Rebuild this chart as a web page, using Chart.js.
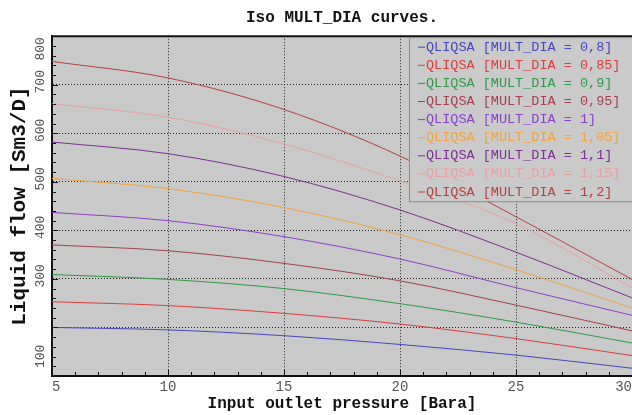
<!DOCTYPE html>
<html>
<head>
<meta charset="utf-8">
<script src="https://cdn.jsdelivr.net/npm/chart.js@4.4.0/dist/chart.umd.min.js"></script>
<style>
  html, body { margin: 0; padding: 0; background: #fff; }
</style>
</head>
<body>
<canvas id="isoChart" width="632" height="415"></canvas>
<script>
const pressure = [5, 10, 15, 20, 25, 30];
const multDia = ['0,8', '0,85', '0,9', '0,95', '1', '1,05', '1,1', '1,15', '1,2'];
const q080 = [200, 195, 183, 165, 143, 116];
const q085 = [253, 245, 229, 207, 177, 142];
const q090 = [309, 299, 280, 249, 211, 168];
const q095 = [370, 358, 332, 296, 246, 193];
const q100 = [437, 420, 387, 341, 282, 225];
const q105 = [507, 486, 447, 391, 319, 240];
const q110 = [582, 558, 511, 442, 355, 261];
const q115 = [661, 633, 578, 502, 414, 282];
const q120 = [748, 714, 649, 553, 428, 299];
const colors = ['#4646be', '#dc3c3c', '#2f9a46', '#a3404e', '#8b3fc8', '#f2a33a', '#7b2f8e', '#e9a0a3', '#b4403f'];
const yTickLabels = [100, 300, 400, 500, 600, 700, 800];

const series = [q080, q085, q090, q095, q100, q105, q110, q115, q120];
const mono = "'Courier New', 'Liberation Mono', monospace";

const datasets = series.map((vals, i) => ({
  label: 'QLIQSA [MULT_DIA = ' + multDia[i] + ']',
  data: pressure.map((p, j) => ({ x: p, y: vals[j] })),
  borderColor: colors[i],
  borderWidth: 1,
  pointRadius: 0,
  fill: false,
  cubicInterpolationMode: 'monotone'
}));

// grey plot area, inner ticks, rotated y labels, top frame line and the legend box
const plotDecor = {
  id: 'plotDecor',
  beforeDraw(chart) {
    const { ctx, chartArea: a } = chart;
    ctx.save();
    ctx.fillStyle = '#c9c9c9';
    ctx.fillRect(a.left, a.top, a.right - a.left, a.bottom - a.top);
    ctx.restore();
  },
  afterDraw(chart) {
    const { ctx, chartArea: a, scales } = chart;
    ctx.save();
    ctx.strokeStyle = '#111';
    ctx.lineWidth = 1;
    ctx.beginPath();
    for (let v = 5; v <= 30; v++) {
      const px = Math.round(scales.x.getPixelForValue(v)) + 0.5;
      const len = v % 5 === 0 ? 6 : 4;
      ctx.moveTo(px, a.bottom);
      ctx.lineTo(px, a.bottom - len);
    }
    for (let v = 100; v <= 800; v += 20) {
      const py = Math.round(scales.y.getPixelForValue(v)) + 0.5;
      const len = v % 100 === 0 ? 6 : 4;
      ctx.moveTo(a.left, py);
      ctx.lineTo(a.left + len, py);
    }
    ctx.stroke();
    ctx.lineWidth = 2;
    ctx.beginPath();
    ctx.moveTo(a.left, a.top);
    ctx.lineTo(a.right, a.top);
    ctx.stroke();

    // y tick labels, read bottom to top
    ctx.font = '13px ' + mono;
    ctx.fillStyle = '#555';
    ctx.textAlign = 'center';
    ctx.textBaseline = 'middle';
    yTickLabels.forEach(v => {
      const txt = String(v);
      const half = ctx.measureText(txt).width / 2;
      let py = scales.y.getPixelForValue(v) - 3;
      py = Math.max(a.top + half + 1, Math.min(a.bottom - half - 8, py));
      ctx.save();
      ctx.translate(a.left - 11, py);
      ctx.rotate(-Math.PI / 2);
      ctx.fillText(txt, 0, 0);
      ctx.restore();
    });
    ctx.textAlign = 'left';

    // legend
    const bx = a.right - 223, by = a.top + 1, bw = 223, bh = 164;
    ctx.fillStyle = '#cacaca';
    ctx.fillRect(bx, by, bw, bh);
    ctx.strokeStyle = '#8c8c8c';
    ctx.lineWidth = 1;
    ctx.strokeRect(bx + 0.5, by + 0.5, bw, bh);
    ctx.font = '13.5px ' + mono;
    chart.data.datasets.forEach((ds, i) => {
      const ty = by + 10 + i * 18.1;
      ctx.strokeStyle = ds.borderColor;
      ctx.beginPath();
      ctx.moveTo(bx + 9, ty);
      ctx.lineTo(bx + 16, ty);
      ctx.stroke();
      ctx.fillStyle = ds.borderColor;
      ctx.fillText(ds.label, bx + 17, ty);
    });
    ctx.restore();
  }
};

const ctx = document.getElementById('isoChart').getContext('2d');
const chart = new Chart(ctx, {
  type: 'line',
  data: { datasets: datasets },
  options: {
    responsive: false,
    animation: false,
    layout: { padding: 0 },
    plugins: {
      legend: { display: false },
      tooltip: { enabled: false },
      title: {
        display: true,
        text: 'Iso MULT_DIA curves.',
        fullSize: false,
        color: '#111',
        font: { family: mono, size: 16, weight: 'bold' },
        padding: { top: 8, bottom: 9 }
      }
    },
    scales: {
      x: {
        type: 'linear',
        min: 5,
        max: 30,
        afterFit: s => { s.height = 39; s.paddingLeft = 0; s.paddingRight = 0; },
        ticks: {
          stepSize: 5,
          align: 'inner',
          padding: 3,
          color: '#555',
          font: { family: mono, size: 14 }
        },
        grid: {
          drawTicks: false,
          color: c => (c.tick && (c.tick.value === 5 || c.tick.value === 30)) ? 'rgba(0,0,0,0)' : '#222'
        },
        border: { display: true, color: '#111', width: 2, dash: [1, 2] },
        title: {
          display: true,
          text: 'Input outlet pressure [Bara]',
          color: '#111',
          font: { family: mono, size: 16, weight: 'bold' },
          padding: { top: 0, bottom: 1 }
        }
      },
      y: {
        min: 100,
        max: 800,
        afterFit: s => { s.width = 52; s.paddingTop = 0; s.paddingBottom = 0; },
        ticks: {
          stepSize: 100,
          display: false
        },
        grid: {
          drawTicks: false,
          color: c => (c.tick && (c.tick.value === 100 || c.tick.value === 800)) ? 'rgba(0,0,0,0)' : '#222'
        },
        border: { display: true, color: '#111', width: 2, dash: [1, 2] },
        title: {
          display: true,
          text: 'Liquid flow [Sm3/D]',
          color: '#111',
          font: { family: mono, size: 21, weight: 'bold' },
          padding: { top: 7, bottom: 0 }
        }
      }
    }
  },
  plugins: [plotDecor]
});
</script>
</body>
</html>
